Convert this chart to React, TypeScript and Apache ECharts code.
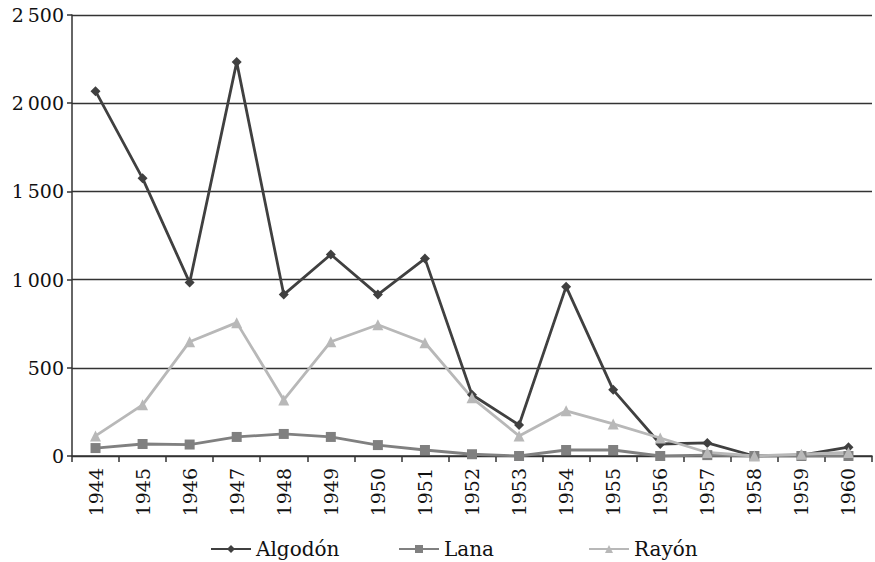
import React, { useEffect, useRef } from "react";
import * as echarts from "echarts";

const years = ["1944","1945","1946","1947","1948","1949","1950","1951","1952","1953","1954","1955","1956","1957","1958","1959","1960"];
const algodon = [2068, 1574, 983, 2233, 915, 1142, 915, 1119, 347, 176, 960, 375, 68, 74, 0, 5, 50];
const lana = [45, 68, 65, 108, 125, 108, 62, 34, 10, 0, 34, 34, 0, 5, 0, 0, 0];
const rayon = [114, 290, 648, 756, 318, 648, 744, 642, 330, 114, 256, 182, 102, 20, 0, 10, 20];

const FONT = "DejaVu Serif";

export default function App() {
  const ref = useRef<HTMLDivElement>(null);
  useEffect(() => {
    const chart = echarts.init(ref.current!, null, { renderer: "svg" });
    const mk = (name: string, data: number[], color: string, symbol: string, size: number) => ({
      name, type: "line", data, symbol, symbolSize: size,
      lineStyle: { color, width: 2.8 }, itemStyle: { color },
    });
    const legendBase = {
      top: 534, itemWidth: 40, itemHeight: 10,
      textStyle: { fontFamily: FONT, fontSize: 20, color: "#111" },
    };
    chart.setOption({
      animation: false,
      textStyle: { fontFamily: FONT },
      grid: { left: 72, right: 3, top: 15, bottom: 106, containLabel: false },
      legend: [
        { ...legendBase, left: 205, data: ["Algodón"] },
        { ...legendBase, left: 393, data: ["Lana"] },
        { ...legendBase, left: 583, data: ["Rayón"] },
      ],
      xAxis: {
        type: "category", data: years, boundaryGap: true,
        axisLine: { lineStyle: { color: "#333", width: 1.5 } },
        axisTick: { show: true, alignWithLabel: false, length: 6, lineStyle: { color: "#333", width: 1.5 } },
        axisLabel: { rotate: 90, fontFamily: FONT, fontSize: 19, color: "#111", margin: 12, interval: 0 },
      },
      yAxis: {
        type: "value", min: 0, max: 2500, interval: 500,
        axisLine: { show: true, lineStyle: { color: "#333", width: 1.5 } },
        axisTick: { show: true, length: 5, lineStyle: { color: "#333", width: 1.5 } },
        splitLine: { lineStyle: { color: "#333", width: 1.3 } },
        axisLabel: {
          fontFamily: FONT, fontSize: 19, color: "#111", margin: 8,
          formatter: (v: number) => v >= 1000 ? Math.floor(v / 1000) + "\u2009" + String(v % 1000).padStart(3, "0") : String(v),
        },
      },
      series: [
        mk("Algodón", algodon, "#404040", "diamond", 10),
        mk("Lana", lana, "#808080", "rect", 10),
        mk("Rayón", rayon, "#b8b8b8", "triangle", 11),
      ],
    });
    return () => chart.dispose();
  }, []);
  return <div ref={ref} style={{ position: "absolute", left: 0, top: 0, width: 875, height: 562 }} />;
}
